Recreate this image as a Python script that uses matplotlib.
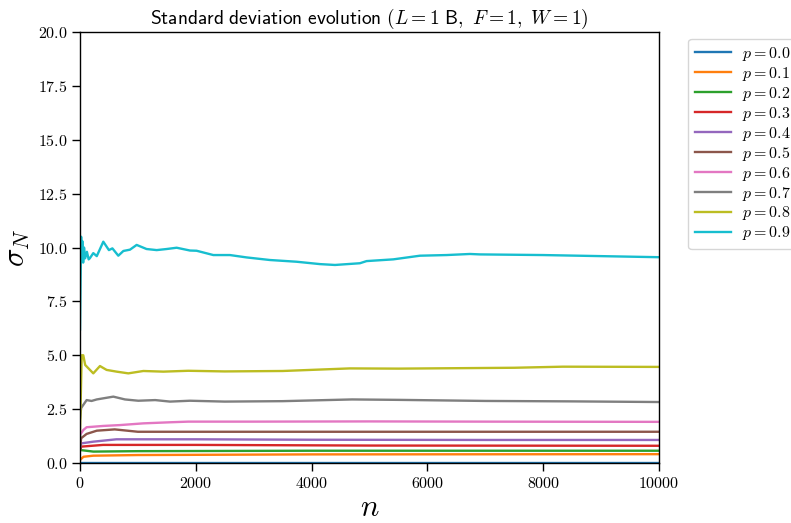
import matplotlib
matplotlib.use("Agg")
import matplotlib.pyplot as plt
from matplotlib.ticker import FuncFormatter

plt.rcParams["mathtext.fontset"] = "cm"

# sigma_N sampled along n for each p
n_p00 = [0, 10000]
s_p00 = [0.0, 0.0]

n_p01 = [1, 60, 230, 1000, 4000, 10000]
s_p01 = [0.14, 0.29, 0.34, 0.37, 0.40, 0.41]

n_p02 = [1, 15, 230, 1000, 4000, 10000]
s_p02 = [1.30, 0.60, 0.53, 0.55, 0.57, 0.57]

n_p03 = [1, 20, 400, 2000, 5000, 10000]
s_p03 = [0.60, 0.76, 0.84, 0.84, 0.81, 0.80]

n_p04 = [1, 20, 230, 630, 2000, 4000, 7000, 10000]
s_p04 = [0.70, 0.91, 0.99, 1.10, 1.10, 1.08, 1.07, 1.07]

n_p05 = [1, 20, 115, 290, 600, 1000, 3000, 6000, 10000]
s_p05 = [0.60, 1.15, 1.35, 1.50, 1.56, 1.45, 1.45, 1.45, 1.45]

n_p06 = [1, 57, 115, 402, 690, 1094, 1555, 1870, 3000, 5000, 7000, 10000]
s_p06 = [1.30, 1.53, 1.66, 1.72, 1.76, 1.84, 1.89, 1.92, 1.92, 1.93, 1.92, 1.91]

n_p07 = [1, 20, 115, 200, 290, 576, 777, 1007, 1300, 1555, 1900, 2500,
         3500, 4700, 5500, 7000, 8500, 10000]
s_p07 = [2.07, 2.55, 2.92, 2.88, 2.95, 3.08, 2.95, 2.89, 2.92, 2.85, 2.89, 2.85,
         2.87, 2.95, 2.93, 2.88, 2.86, 2.83]

n_p08 = [1, 30, 57, 90, 230, 345, 460, 633, 835, 1094, 1440, 1870, 2500,
         3500, 4660, 5500, 6500, 7500, 8340, 10000]
s_p08 = [1.50, 5.00, 5.00, 4.55, 4.16, 4.50, 4.32, 4.24, 4.16, 4.27, 4.24, 4.28, 4.25,
         4.27, 4.39, 4.38, 4.40, 4.42, 4.47, 4.46]

n_p09 = [1, 10, 20, 30, 40, 55, 70, 90, 120, 150, 170, 230, 290, 403, 500, 560,
         662, 750, 864, 979, 1150, 1325, 1497, 1670, 1900, 2014, 2303, 2590, 2878,
         3280, 3741, 4144, 4404, 4835, 4950, 5411, 5872, 6332, 6735, 6908, 8000,
         9000, 10000]
s_p09 = [6.2, 8.5, 10.5, 9.4, 10.3, 9.3, 10.0, 9.5, 9.8, 9.45, 9.5, 9.74, 9.6, 10.27,
         9.88, 9.96, 9.62, 9.84, 9.90, 10.12, 9.93, 9.88, 9.93, 9.99, 9.86, 9.85,
         9.65, 9.65, 9.54, 9.42, 9.34, 9.23, 9.19, 9.27, 9.37, 9.45, 9.62, 9.65,
         9.70, 9.68, 9.65, 9.60, 9.55]

p_labels = ["0.0", "0.1", "0.2", "0.3", "0.4", "0.5", "0.6", "0.7", "0.8", "0.9"]
series = [
    (n_p00, s_p00), (n_p01, s_p01), (n_p02, s_p02), (n_p03, s_p03), (n_p04, s_p04),
    (n_p05, s_p05), (n_p06, s_p06), (n_p07, s_p07), (n_p08, s_p08), (n_p09, s_p09),
]

fig = plt.figure(figsize=(7.91, 5.23), dpi=100)
ax = fig.add_axes([0.1011, 0.1147, 0.7320, 0.8241])

for lab, (n, s) in zip(p_labels, series):
    ax.plot(n, s, linewidth=1.7, label=rf"$p = {lab}$")

ax.set_xlim(0, 10000)
ax.set_ylim(0, 20)
ax.set_xticks([0, 2000, 4000, 6000, 8000, 10000])
ax.set_yticks([0, 2.5, 5, 7.5, 10, 12.5, 15, 17.5, 20])
ax.xaxis.set_major_formatter(FuncFormatter(lambda v, _: f"${v:.0f}$"))
ax.yaxis.set_major_formatter(FuncFormatter(lambda v, _: f"${v:.1f}$"))
ax.tick_params(labelsize=11.5, length=5.5, width=1.0)
for sp in ax.spines.values():
    sp.set_linewidth(1.0)

ax.set_xlabel(r"$n$", fontsize=22, labelpad=2)
ax.set_ylabel(r"$\sigma_N$", fontsize=22)
ax.set_title(r"$\mathsf{Standard\ deviation\ evolution}\ (L = 1\ \mathsf{B},\ F = 1,\ W = 1)$",
             fontsize=14)

# legend sits to the right of the axes, reaching the figure edge
ax.legend(bbox_to_anchor=(1.037, 1.003), loc="upper left", fontsize=11.5,
          handlelength=2.25, handletextpad=0.7, labelspacing=0.12)

fig.savefig("out.png", dpi=100)
